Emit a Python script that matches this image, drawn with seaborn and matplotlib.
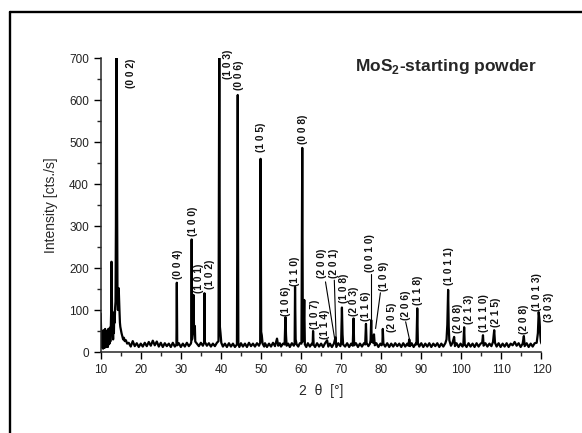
import matplotlib
matplotlib.use('Agg')
import matplotlib.pyplot as plt
from matplotlib.lines import Line2D
import seaborn as sns
import pandas as pd

# XRD scan, split by 2-theta range: (2 theta, cts/s)
scan_low = [
    (10.0, 92), (10.1, 55), (10.2, 15), (10.3, 48), (10.4, 10), (10.5, 35), (10.6, 8),
    (10.7, 52), (10.8, 14), (10.9, 40), (11.0, 10), (11.1, 55), (11.2, 18), (11.3, 45),
    (11.4, 12), (11.5, 50), (11.6, 20), (11.7, 38), (11.8, 12), (11.9, 55), (12.0, 18),
    (12.1, 48), (12.2, 20), (12.3, 58), (12.4, 25), (12.5, 50), (12.6, 90), (12.7, 215),
    (12.8, 120), (12.9, 45), (13.0, 60), (13.1, 30), (13.2, 70), (13.3, 45), (13.4, 95),
    (13.5, 70), (13.6, 105), (13.7, 120), (13.8, 300), (13.9, 760), (14.0, 760), (14.1, 350),
    (14.2, 120), (14.3, 100), (14.4, 135), (14.5, 152), (14.6, 120), (14.7, 95), (14.8, 70),
    (14.9, 60), (15.0, 55), (15.2, 45), (15.4, 38), (15.6, 30), (15.8, 34), (16.0, 26),
    (16.3, 28), (16.6, 20),
]
scan_mid = [
    (17.0, 22), (17.5, 13), (18.0, 26), (18.5, 14), (19.0, 21), (19.5, 12), (20.0, 20),
    (20.5, 13), (21.0, 22), (21.5, 14), (22.0, 24), (22.5, 15), (23.0, 27), (23.5, 16),
    (24.0, 25), (24.5, 13), (25.0, 22), (25.5, 12), (26.0, 21), (26.5, 14), (27.0, 20),
    (27.5, 12), (28.0, 22), (28.5, 13), (28.9, 18), (29.0, 165), (29.1, 16), (29.5, 21),
    (30.0, 12), (30.5, 20), (31.0, 13), (31.5, 22), (32.0, 14), (32.5, 20), (32.6, 24),
    (32.7, 268), (32.8, 30), (33.0, 45), (33.15, 136), (33.3, 50), (33.5, 62), (33.6, 25),
    (34.0, 20), (34.5, 14), (35.0, 22), (35.5, 15), (35.8, 22), (35.9, 140), (36.0, 24),
    (36.5, 15), (37.0, 21), (37.5, 13), (38.0, 20), (38.5, 14), (39.0, 22), (39.4, 26),
    (39.6, 760), (39.75, 60), (39.9, 45), (40.1, 22), (40.5, 13), (41.0, 20), (41.5, 12),
    (42.0, 21), (42.5, 13), (43.0, 20), (43.5, 12), (44.0, 18), (44.2, 612), (44.35, 20),
    (44.6, 12),
]
scan_high = [
    (45.0, 21), (45.5, 13), (46.0, 20), (46.5, 12), (47.0, 22), (47.5, 14), (48.0, 20),
    (48.5, 13), (49.0, 21), (49.5, 15), (49.8, 22), (49.9, 460), (50.05, 48), (50.2, 40),
    (50.4, 20), (50.8, 13), (51.0, 21), (51.5, 12), (52.0, 20), (52.5, 13), (53.0, 22),
    (53.5, 14), (54.0, 32), (54.3, 15), (54.7, 21), (55.0, 13), (55.5, 20), (55.9, 18),
    (56.1, 83), (56.25, 40), (56.4, 15), (56.8, 20), (57.2, 12), (57.7, 21), (58.2, 15),
    (58.4, 20), (58.5, 155), (58.65, 30), (58.9, 18), (59.3, 13), (59.7, 21), (60.1, 20),
    (60.3, 486), (60.45, 25), (60.6, 30), (60.8, 124), (60.95, 18), (61.3, 12), (61.7, 21),
    (62.2, 13), (62.7, 20), (62.9, 18), (63.0, 50), (63.15, 17), (63.5, 12), (64.0, 21),
    (64.5, 13), (65.0, 20), (65.5, 12), (66.0, 21), (66.5, 28), (66.8, 13), (67.2, 20),
    (67.7, 12), (68.2, 20), (68.6, 35), (68.8, 12), (69.3, 21), (69.8, 14), (70.0, 20),
    (70.2, 106), (70.35, 42), (70.5, 18), (71.0, 13), (71.5, 21), (72.0, 12), (72.5, 20),
    (72.9, 15), (73.1, 80), (73.25, 16), (73.7, 21), (74.2, 12), (74.7, 20), (75.2, 13),
    (75.7, 21), (76.0, 18), (76.2, 67), (76.35, 22), (76.8, 14), (77.2, 20), (77.35, 28),
    (77.5, 76), (77.65, 25), (78.0, 22), (78.2, 42), (78.4, 16), (78.8, 21), (79.3, 12),
    (79.8, 20), (80.1, 16),
]
scan_top = [
    (80.3, 20), (80.4, 55), (80.55, 20), (81.0, 13), (81.5, 21), (82.0, 12), (82.5, 20),
    (83.0, 13), (83.5, 21), (84.0, 14), (84.5, 20), (85.0, 12), (85.5, 21), (86.0, 13),
    (86.5, 20), (86.8, 15), (87.0, 30), (87.2, 14), (87.6, 21), (88.1, 12), (88.6, 20),
    (88.8, 18), (89.0, 104), (89.15, 22), (89.5, 13), (90.0, 21), (90.5, 12), (91.0, 20),
    (91.5, 13), (92.0, 21), (92.5, 12), (93.0, 20), (93.5, 14), (94.0, 21), (94.5, 12),
    (95.0, 20), (95.5, 13), (96.0, 21), (96.3, 30), (96.5, 65), (96.7, 148), (96.85, 60),
    (97.0, 28), (97.4, 15), (97.8, 22), (98.2, 36), (98.4, 14), (98.8, 21), (99.3, 12),
    (99.8, 20), (100.3, 13), (100.5, 18), (100.7, 59), (100.85, 18), (101.3, 12), (101.8, 21),
    (102.3, 13), (102.8, 20), (103.3, 12), (103.8, 21), (104.3, 13), (104.8, 20), (105.2, 22),
    (105.4, 40), (105.55, 15), (106.0, 21), (106.5, 13), (107.0, 20), (107.5, 14), (107.9, 24),
    (108.2, 52), (108.4, 22), (108.8, 13), (109.3, 21), (109.8, 12), (110.3, 20), (110.8, 13),
    (111.3, 21), (111.8, 12), (112.3, 20), (112.8, 16), (113.3, 24), (113.8, 15), (114.3, 21),
    (114.8, 12), (115.3, 20), (115.6, 38), (115.8, 14), (116.3, 21), (116.8, 12), (117.3, 20),
    (117.8, 13), (118.3, 21), (118.8, 22), (119.1, 45), (119.3, 95), (119.5, 78), (119.7, 40),
    (119.85, 25), (120.0, 20),
]

# reflection labels (text, 2 theta, intensity of label centre)
peak_labels = ['(0 0 2)', '(1 0 3)', '(0 0 6)', '(1 0 5)', '(0 0 8)', '(0 0 4)', '(1 0 0)',
               '(1 0 1)', '(1 0 2)', '(1 0 6)', '(1 1 0)', '(1 0 7)', '(1 1 4)', '(2 0 0)',
               '(2 0 1)', '(1 0 8)', '(2 0 3)', '(1 1 6)', '(0 0 1 0)', '(1 0 9)', '(2 0 5)',
               '(2 0 6)', '(1 1 8)', '(1 0 1 1)', '(2 0 8)', '(2 1 3)', '(1 1 1 0)', '(2 1 5)',
               '(2 0 8)', '(1 0 1 3)', '(3 0 3)']
label_x = [17.6, 41.7, 44.6, 50.1, 60.5, 29.3, 33.0, 34.5, 37.3, 56.3, 58.6, 63.4, 66.1, 65.3,
           68.2, 70.8, 73.3, 76.1, 77.2, 80.7, 82.8, 86.3, 89.2, 96.9, 99.2, 101.9, 105.7, 108.6,
           115.7, 119.0, 121.9]
label_y = [664, 686, 660, 512, 531, 209, 312, 176, 186, 121, 193, 90, 67, 212, 212, 152, 121,
           110, 236, 181, 83, 112, 148, 205, 81, 102, 93, 95, 79, 143, 107]

# leader lines from shifted labels down to their reflections
leaders = {
    '(2 0 0)': ((66.1, 167), (68.6, 19)),
    '(2 0 1)': ((68.3, 171), (68.8, 19)),
    '(0 0 1 0)': ((77.5, 186), (77.5, 60)),
    '(1 0 9)': ((79.8, 141), (78.6, 56)),
    '(2 0 6)': ((86.1, 72), (87.2, 24)),
}

scan = pd.DataFrame(scan_low + scan_mid + scan_high + scan_top, columns=['two_theta', 'intensity'])

sns.set_style('ticks')
plt.rcParams['font.family'] = ['Liberation Sans', 'DejaVu Sans']
plt.rcParams['mathtext.fontset'] = 'custom'
plt.rcParams['mathtext.bf'] = 'Liberation Sans:bold'
plt.rcParams['mathtext.rm'] = 'Liberation Sans'

fig = plt.figure(figsize=(5.82, 4.33), dpi=100)
ax = fig.add_axes([0.173, 0.187, 0.7574, 0.679])

sns.lineplot(data=scan, x='two_theta', y='intensity', ax=ax, color='black', lw=1.6,
             estimator=None, sort=False)

for (x0, y0), (x1, y1) in leaders.values():
    ax.plot([x0, x1], [y0, y1], color='black', lw=0.8)

for txt, x, y in zip(peak_labels, label_x, label_y):
    ax.text(x, y, txt, rotation=90, ha='center', va='center', fontsize=7.3,
            fontweight='bold', color='#111111')

ax.text(96.1, 679, r'MoS$_\mathbf{2}$-starting powder', ha='center', va='center',
        fontsize=12.5, fontweight='bold')

ax.set_xlim(10, 120)
ax.set_ylim(0, 700)
ax.set_xticks(range(10, 121, 10))
ax.set_xticks(range(15, 120, 10), minor=True)
ax.set_yticks(range(0, 701, 100))
ax.set_yticks(range(50, 700, 100), minor=True)
ax.set_xlabel('2  θ  [°]', fontsize=10, labelpad=6)
ax.set_ylabel('Intensity [cts./s]', fontsize=10, labelpad=8)
ax.tick_params(which='major', length=5, width=1.0, labelsize=8.5, colors='black', labelcolor='#222222')
ax.tick_params(which='minor', length=3, width=1.0)
sns.despine(ax=ax)
for side in ['left', 'bottom']:
    ax.spines[side].set_linewidth(1.1)

# outer frame visible at the top and left of the picture
fig.add_artist(Line2D([9.5 / 582, 9.5 / 582], [0, 1 - 12 / 433], color='black', lw=1.7))
fig.add_artist(Line2D([9.5 / 582, 1], [1 - 12 / 433, 1 - 12 / 433], color='black', lw=1.7))

fig.savefig('out.png', dpi=100)
plt.close(fig)
